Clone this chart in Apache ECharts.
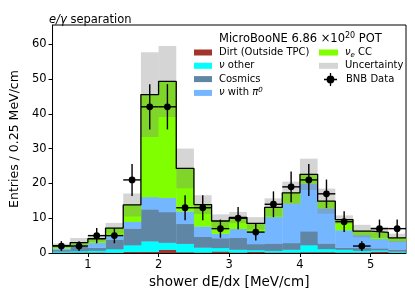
<!DOCTYPE html>
<html>
<head>
<meta charset="utf-8">
<script src="https://cdn.jsdelivr.net/npm/echarts@6/dist/echarts.min.js"></script>
<style>html,body{margin:0;padding:0;background:#fff;}#c{width:415px;height:297px;}</style>
</head>
<body>
<div id="c"></div>
<script>
// Bin edges (MeV/cm), 0.25 wide
const binEdges = [0.5,0.75,1.0,1.25,1.5,1.75,2.0,2.25,2.5,2.75,3.0,3.25,3.5,3.75,4.0,4.25,4.5,4.75,5.0,5.25,5.5];
const xTicks = [1,2,3,4,5];
const yTicks = [0,10,20,30,40,50,60];
// Stacked MC components (bottom to top)
const dirt    = [0.05,0.1,0.1,0.05,0.3,0.3,0.9,0.2,0.1,0.4,0.1,0.3,0.1,0.1,0.2,0.2,0.1,0.1,0.3,0.05];
const nuOther = [0.3,0.4,0.5,1.0,1.9,3.0,2.0,2.4,1.4,1.0,0.8,0.5,0.5,0.8,2.0,0.9,0.8,0.5,0.4,0.3];
const cosmics = [0.45,1.2,0.9,2.8,4.8,9.2,8.8,5.7,3.1,2.8,3.4,1.7,2.1,1.9,4.0,1.6,0.6,0.8,0.6,0.6];
const nuPi0   = [0.45,0.5,1.4,1.0,1.9,3.5,4.1,3.6,3.0,1.3,2.6,3.5,7.6,11.4,13.7,10.1,5.0,3.7,2.7,2.4];
const nueCC   = [0.85,0.8,1.2,2.3,4.9,29.5,33.5,12.4,6.3,3.7,3.3,2.5,2.8,3.1,2.7,2.1,3.1,1.2,1.9,1.0];
// MC uncertainty (symmetric)
const mcUnc   = [0.6,1.3,1.0,1.5,3.3,12.2,10.2,5.7,2.7,1.9,1.6,1.8,2.6,3.2,4.5,3.6,1.2,1.8,1.6,1.2];
// BNB data and its errors
const bnbData = [2,2,5,5,21,42,42,13,13,7,10,6,14,19,21,17,9,2,7,7];
const bnbErr  = [1.4,1.4,2.2,2.2,4.6,6.5,6.5,3.6,3.6,2.6,3.2,2.4,3.7,4.4,4.6,4.1,3.0,1.4,2.6,2.6];

const components = [
  {name:'Dirt (Outside TPC)', color:'#a2342a', vals:dirt},
  {name:'ν other', color:'#00ffff', vals:nuOther},
  {name:'Cosmics', color:'#5f86a4', vals:cosmics},
  {name:'ν with π0', color:'#74b6ff', vals:nuPi0},
  {name:'νe CC', color:'#7fff00', vals:nueCC}
];

const nBins = binEdges.length - 1;
const bottoms = new Array(nBins).fill(0);
const series = [];

function rectRender(params, api) {
  const p0 = api.coord([api.value(0), api.value(2)]);
  const p1 = api.coord([api.value(1), api.value(3)]);
  return {
    type:'rect',
    shape:{x:p0[0], y:p1[1]-0.3, width:p1[0]-p0[0]+0.4, height:p0[1]-p1[1]+0.3},
    style:{fill: api.visual('color')}
  };
}

components.forEach(c => {
  const d = [];
  for (let i = 0; i < nBins; i++) {
    d.push([binEdges[i], binEdges[i+1], bottoms[i], bottoms[i] + c.vals[i]]);
    bottoms[i] += c.vals[i];
  }
  series.push({
    type:'custom', name:c.name, itemStyle:{color:c.color},
    data:d, encode:{x:[0,1], y:[2,3]}, renderItem:rectRender, clip:true, z:2
  });
});
const totals = bottoms.slice();

// Uncertainty band
series.push({
  type:'custom', name:'Uncertainty', itemStyle:{color:'rgba(128,128,128,0.33)'},
  data: totals.map((t,i)=>[binEdges[i], binEdges[i+1], t - mcUnc[i], t + mcUnc[i]]),
  encode:{x:[0,1], y:[2,3]},
  renderItem:function(params, api){
    const p0 = api.coord([api.value(0), api.value(2)]);
    const p1 = api.coord([api.value(1), api.value(3)]);
    return {type:'rect', shape:{x:p0[0], y:p1[1], width:p1[0]-p0[0], height:p0[1]-p1[1]},
      style:{fill:'rgba(128,128,128,0.33)'}};
  }, clip:true, z:3
});

// Total MC step line
const stepData = totals.map((t,i)=>[binEdges[i], t]);
stepData.push([binEdges[nBins], totals[nBins-1]]);
series.push({
  type:'line', name:'Total', step:'end', data:stepData, symbol:'none',
  lineStyle:{color:'#000', width:1.3}, z:4, silent:true
});

// Data points
series.push({
  type:'custom', name:'BNB Data', itemStyle:{color:'#000'},
  data: bnbData.map((v,i)=>[(binEdges[i]+binEdges[i+1])/2, v, bnbErr[i], binEdges[i], binEdges[i+1]]),
  encode:{x:0, y:1},
  renderItem:function(params, api){
    const x = api.value(0), y = api.value(1), e = api.value(2);
    const pc = api.coord([x, y]);
    const pl = api.coord([api.value(3), y]);
    const pr = api.coord([api.value(4), y]);
    const pt = api.coord([x, y + e]);
    const pb = api.coord([x, y - e]);
    return {type:'group', children:[
      {type:'line', shape:{x1:pt[0], y1:pt[1], x2:pb[0], y2:pb[1]}, style:{stroke:'#000', lineWidth:1.4}},
      {type:'line', shape:{x1:pl[0], y1:pl[1], x2:pr[0], y2:pr[1]}, style:{stroke:'#000', lineWidth:1.4}},
      {type:'circle', shape:{cx:pc[0], cy:pc[1], r:3.4}, style:{fill:'#000'}}
    ]};
  }, z:5
});

const legendRich = {
  i:{fontStyle:'italic', fontFamily:'DejaVu Sans', fontSize:10, color:'#000'},
  sub:{fontStyle:'italic', fontFamily:'DejaVu Sans', fontSize:7, color:'#000', padding:[5,0,0,0]},
  sup:{fontStyle:'italic', fontFamily:'DejaVu Sans', fontSize:7, color:'#000', padding:[0,0,6,0]}
};
function legendFmt(name){
  if (name === 'ν other') return '{i|ν} other';
  if (name === 'ν with π0') return '{i|ν} with {i|π}{sup|0}';
  if (name === 'νe CC') return '{i|ν}{sub|e} CC';
  return name;
}
const legendText = {fontFamily:'DejaVu Sans', fontSize:10, color:'#000', rich:legendRich, padding:[0,0,0,2]};

const option = {
  animation:false,
  backgroundColor:'#fff',
  title:[
    {text:'{i|e/γ} separation', left:44, top:9,
     textStyle:{fontFamily:'DejaVu Sans', fontSize:11.5, fontWeight:'normal', color:'#000',
       rich:{i:{fontStyle:'italic', fontFamily:'DejaVu Sans', fontSize:11.5, color:'#000'}}}},
    {text:'MicroBooNE 6.86 ×10{s|20} POT', left:214, top:27,
     textStyle:{fontFamily:'DejaVu Sans', fontSize:11.5, fontWeight:'normal', color:'#000',
       rich:{s:{fontFamily:'DejaVu Sans', fontSize:8, color:'#000', padding:[0,0,7,0]}}}}
  ],
  legend:[
    {data:['Dirt (Outside TPC)','ν other','Cosmics','ν with π0'], orient:'vertical',
     left:194, top:46.5, padding:0, itemGap:1.3, itemWidth:18, itemHeight:6, icon:'rect',
     formatter:legendFmt, textStyle:Object.assign({lineHeight:12}, legendText), selectedMode:false},
    {data:['νe CC','Uncertainty'], orient:'vertical',
     left:319, top:46.5, padding:0, itemGap:1.3, itemWidth:19, itemHeight:6, icon:'rect',
     formatter:legendFmt, textStyle:Object.assign({lineHeight:12}, legendText), selectedMode:false},
    {data:[{name:'BNB Data', icon:'path://M0,9H20V11H0Z M9,0H11V20H9Z M10,4A6,6,0,1,1,9.99,4Z'}], orient:'vertical',
     left:324, top:73, padding:0, itemWidth:13, itemHeight:13,
     formatter:legendFmt, textStyle:Object.assign({lineHeight:12}, legendText, {padding:[0,0,0,4]}), selectedMode:false}
  ],
  grid:{left:45, right:9, top:25, bottom:44, show:true, borderColor:'#000', borderWidth:1, backgroundColor:'transparent'},
  xAxis:{
    type:'value', min:0.5, max:5.5,
    name:'shower dE/dx [MeV/cm]', nameLocation:'middle', nameGap:21,
    nameTextStyle:{fontFamily:'DejaVu Sans', fontSize:13.5, color:'#000'},
    axisLine:{show:true, lineStyle:{color:'#000', width:1}},
    axisTick:{show:true, length:4, customValues:xTicks, lineStyle:{color:'#000'}},
    axisLabel:{customValues:xTicks, fontFamily:'DejaVu Sans', fontSize:11.5, color:'#000', margin:6},
    splitLine:{show:false}
  },
  yAxis:{
    type:'value', min:0, max:65.5,
    name:'Entries / 0.25 MeV/cm', nameLocation:'middle', nameGap:26,
    nameTextStyle:{fontFamily:'DejaVu Sans', fontSize:12.5, color:'#000'},
    axisLine:{show:true, lineStyle:{color:'#000', width:1}},
    axisTick:{show:true, length:4, customValues:yTicks, lineStyle:{color:'#000'}},
    axisLabel:{customValues:yTicks, fontFamily:'DejaVu Sans', fontSize:11.5, color:'#000', margin:6},
    splitLine:{show:false}
  },
  series:series
};

const chart = echarts.init(document.getElementById('c'), null, {renderer:'canvas'});
chart.setOption(option);
</script>
</body>
</html>
